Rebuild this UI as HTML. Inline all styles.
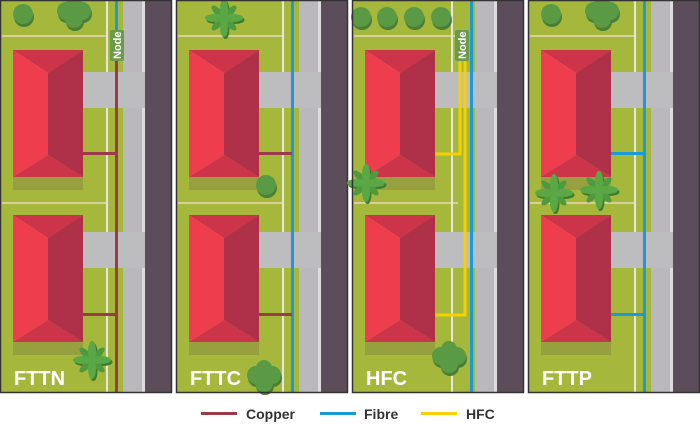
<!DOCTYPE html>
<html><head><meta charset="utf-8"><style>
html,body{margin:0;padding:0;background:#fff;width:700px;height:424px;overflow:hidden}
svg{display:block}
text{font-family:"Liberation Sans",sans-serif;font-weight:bold}
</style></head><body>
<svg width="700" height="424" viewBox="0 0 700 424">
<defs>
<g id="house">
<rect x="13" y="177" width="70" height="13" fill="#96a03e"/>
<polygon points="13,50 83,50 48,73" fill="#cc3449"/>
<polygon points="13,50 48,73 48,155 13,177" fill="#ee3e4d"/>
<polygon points="83,50 83,177 48,155 48,73" fill="#ae3049"/>
<polygon points="13,177 83,177 48,155" fill="#cc3449"/>
</g>
<g id="base">
<rect x="0" y="0" width="172" height="393" fill="#a5b83b"/>
<rect x="123" y="0" width="22" height="393" fill="#bab8bc"/>
<rect x="142" y="0" width="3" height="72" fill="#dedcdf"/>
<rect x="142" y="108" width="3" height="124" fill="#dedcdf"/>
<rect x="142" y="268" width="3" height="125" fill="#dedcdf"/>
<rect x="145" y="0" width="27" height="393" fill="#5b4e5a"/>
<rect x="2" y="35" width="104" height="2" fill="#d9cf9a"/>
<rect x="2" y="202" width="104" height="2" fill="#d9cf9a"/>
<rect x="83" y="72" width="62" height="36" fill="#bdbcbe"/>
<rect x="83" y="232" width="62" height="36" fill="#bdbcbe"/>
<use href="#house"/>
<use href="#house" y="165"/>
</g>
<g id="wl">
<rect x="106" y="0" width="2" height="72" fill="#e8e6dc"/>
<rect x="106" y="108" width="2" height="124" fill="#e8e6dc"/>
<rect x="106" y="268" width="2" height="125" fill="#e8e6dc"/>
</g>
<g id="star">
<g fill="#3f7a2f" transform="translate(1.5,2)">
<ellipse cx="0" cy="-9" rx="4" ry="10"/><ellipse cx="0" cy="9" rx="4" ry="10"/>
<ellipse cx="-9" cy="0" rx="10" ry="4"/><ellipse cx="9" cy="0" rx="10" ry="4"/></g>
<g fill="#4f9a3c" transform="rotate(45)">
<ellipse cx="0" cy="-8" rx="3.5" ry="9"/><ellipse cx="0" cy="8" rx="3.5" ry="9"/>
<ellipse cx="-8" cy="0" rx="9" ry="3.5"/><ellipse cx="8" cy="0" rx="9" ry="3.5"/></g>
<g fill="#5aa845">
<ellipse cx="0" cy="-9" rx="4" ry="10"/><ellipse cx="0" cy="9" rx="4" ry="10"/>
<ellipse cx="-9" cy="0" rx="10" ry="4"/><ellipse cx="9" cy="0" rx="10" ry="4"/></g>
</g>
<g id="bush"><circle cx="1" cy="3" r="10" fill="#4a7d35"/><circle cx="0" cy="0" r="10" fill="#5a9a45"/></g>
<g id="cluster">
<g fill="#4a7d35" transform="translate(1,3)"><circle cx="-8" cy="-2" r="9"/><circle cx="8" cy="-2" r="9"/><circle cx="0" cy="-9" r="8"/><circle cx="0" cy="6" r="9"/></g>
<g fill="#5a9a45"><circle cx="-8" cy="-2" r="9"/><circle cx="8" cy="-2" r="9"/><circle cx="0" cy="-9" r="8"/><circle cx="0" cy="6" r="9"/></g>
</g>
</defs>

<g transform="translate(0,0)">
<use href="#base"/><use href="#wl"/>
<use href="#bush" x="23" y="14"/>
<use href="#cluster" x="74" y="13"/>
<rect x="115" y="0" width="3" height="30" fill="#1a9bd7"/>
<rect x="115" y="61" width="3" height="332" fill="#9b3a48"/>
<rect x="83" y="152" width="34" height="3" fill="#9b3a48"/>
<rect x="83" y="313" width="34" height="3" fill="#9b3a48"/>
<rect x="110" y="30" width="14" height="31" rx="2" fill="#6a9a4a"/>
<text transform="translate(121,59) rotate(-90)" font-size="11" fill="#fff">Node</text>
<use href="#star" x="92" y="360"/>
<text x="14" y="385" font-size="20" fill="#fff">FTTN</text>
<rect x="0.5" y="0.5" width="171" height="392" fill="none" stroke="#333" stroke-width="1.5"/>
</g>

<g transform="translate(176,0)">
<use href="#base"/><use href="#wl"/>
<use href="#star" x="48" y="18"/>
<use href="#bush" x="90" y="185"/>
<rect x="115" y="0" width="3" height="393" fill="#1a9bd7"/>
<rect x="83" y="152" width="33" height="3" fill="#9b3a48"/>
<rect x="83" y="313" width="33" height="3" fill="#9b3a48"/>
<use href="#cluster" x="88" y="377"/>
<text x="14" y="385" font-size="20" fill="#fff">FTTC</text>
<rect x="0.5" y="0.5" width="171" height="392" fill="none" stroke="#333" stroke-width="1.5"/>
</g>

<g transform="translate(352,0)">
<use href="#base"/><use href="#wl" x="-7"/>
<use href="#bush" x="9" y="17"/><use href="#bush" x="35" y="17"/><use href="#bush" x="62" y="17"/><use href="#bush" x="89" y="17"/>
<rect x="118" y="0" width="3" height="393" fill="#1a9bd7"/>
<polyline points="108,61 108,154 83,154" fill="none" stroke="#f6d000" stroke-width="3"/>
<polyline points="113,61 113,315 83,315" fill="none" stroke="#f6d000" stroke-width="3"/>
<rect x="103" y="30" width="14" height="31" rx="2" fill="#6a9a4a"/>
<text transform="translate(114,59) rotate(-90)" font-size="11" fill="#fff">Node</text>
<use href="#star" x="14" y="183"/>
<use href="#cluster" x="97" y="358"/>
<text x="14" y="385" font-size="20" fill="#fff">HFC</text>
<rect x="0.5" y="0.5" width="171" height="392" fill="none" stroke="#333" stroke-width="1.5"/>
</g>

<g transform="translate(528,0)">
<use href="#base"/><use href="#wl"/>
<use href="#bush" x="23" y="14"/>
<use href="#cluster" x="74" y="13"/>
<rect x="115" y="0" width="3" height="393" fill="#1a9bd7"/>
<rect x="83" y="152" width="33" height="3" fill="#1a9bd7"/>
<rect x="83" y="313" width="33" height="3" fill="#1a9bd7"/>
<use href="#star" x="26" y="193"/>
<use href="#star" x="71" y="190"/>
<text x="14" y="385" font-size="20" fill="#fff">FTTP</text>
<rect x="0.5" y="0.5" width="171" height="392" fill="none" stroke="#333" stroke-width="1.5"/>
</g>

<rect x="201" y="412" width="36" height="3" fill="#9b3a48"/>
<text x="246" y="419" font-size="14" fill="#333">Copper</text>
<rect x="320" y="412" width="36" height="3" fill="#1a9bd7"/>
<text x="364" y="419" font-size="14" fill="#333">Fibre</text>
<rect x="421" y="412" width="36" height="3" fill="#f6d000"/>
<text x="466" y="419" font-size="14" fill="#333">HFC</text>
</svg>
</body></html>
